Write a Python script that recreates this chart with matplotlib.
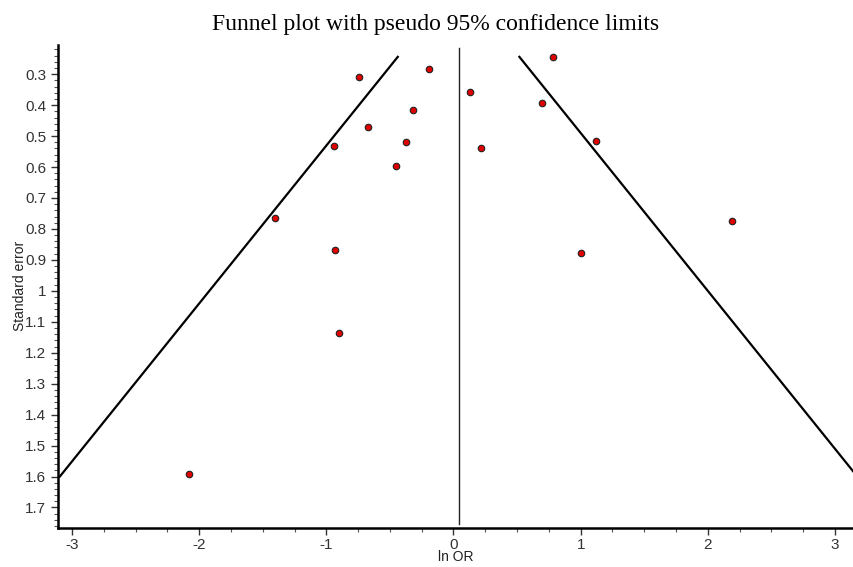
import numpy as np
import matplotlib
matplotlib.use("Agg")
import matplotlib.pyplot as plt
from matplotlib.ticker import MultipleLocator

# study estimates
ln_or = [0.78, -0.19, -0.74, 0.13, -0.32, 0.70, -0.67, -0.94, -0.37, 1.12,
         0.22, -0.45, -1.40, 2.19, -0.93, 1.00, -0.90, -2.08]
se = [0.244, 0.283, 0.309, 0.357, 0.415, 0.393, 0.470, 0.532, 0.519, 0.516,
      0.538, 0.596, 0.765, 0.775, 0.868, 0.877, 1.136, 1.592]

pooled = 0.04
se_limits = [0.244, 1.60]
xticks = [-3, -2, -1, 0, 1, 2, 3]
yticks = [0.3, 0.4, 0.5, 0.6, 0.7, 0.8, 0.9, 1.0, 1.1, 1.2, 1.3, 1.4, 1.5, 1.6, 1.7]
ytick_labels = ["0.3", "0.4", "0.5", "0.6", "0.7", "0.8", "0.9", "1", "1.1",
                "1.2", "1.3", "1.4", "1.5", "1.6", "1.7"]

plt.rcParams['font.family'] = ['Liberation Sans', 'DejaVu Sans']
plt.rcParams['axes.unicode_minus'] = False

fig = plt.figure(figsize=(8.54, 5.67), dpi=100)
ax = fig.add_axes([0.068, 0.069, 0.932, 0.852])

s_line = np.array(se_limits)
ax.plot(pooled - 1.96 * s_line, s_line, color='black', lw=1.6)
ax.plot(pooled + 1.96 * s_line, s_line, color='black', lw=1.6)
ax.plot([pooled, pooled], [0.215, 1.755], color='#222222', lw=1.0)

ax.scatter(ln_or, se, s=22, color='#e00000', edgecolors='#222222',
           linewidths=0.8, zorder=3)

ax.set_xlim(-3.11, 3.15)
ax.set_ylim(1.766, 0.205)
ax.set_xticks(xticks)
ax.set_yticks(yticks)
ax.set_yticklabels(ytick_labels)
ax.xaxis.set_minor_locator(MultipleLocator(0.25))
ax.yaxis.set_minor_locator(MultipleLocator(0.02))

for side in ['top', 'right']:
    ax.spines[side].set_visible(False)
ax.spines['left'].set_linewidth(1.8)
ax.spines['bottom'].set_linewidth(1.8)
ax.tick_params(which='major', length=5, width=1, labelsize=11, colors='#333333')
ax.tick_params(axis='x', which='major', pad=2)
ax.tick_params(which='minor', length=3, width=0.8, colors='#555555')

ax.set_xlabel("ln OR", fontsize=10, labelpad=-1, color='#222222')
ax.set_ylabel("Standard error", fontsize=10, labelpad=-1, color='#222222')
fig.text(0.51, 1 - 30 / 567, "Funnel plot with pseudo 95% confidence limits",
         fontsize=17, family='Liberation Serif', ha='center', va='baseline')

fig.savefig("out.png", dpi=100)
